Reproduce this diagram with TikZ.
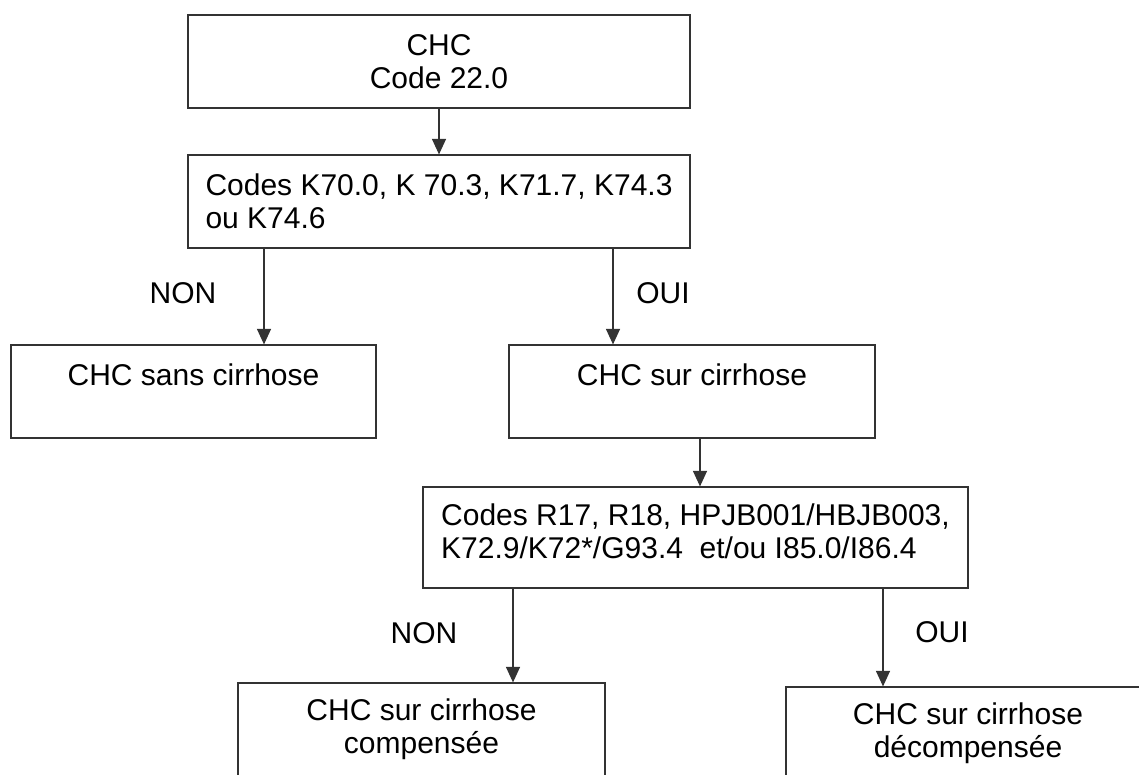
\documentclass[tikz,border=0pt]{standalone}
\usepackage{fontspec}
\setmainfont{Liberation Sans}
\usetikzlibrary{arrows.meta}
\begin{document}
\begin{tikzpicture}[x=1pt,y=-1pt,
  box/.style={draw=black!80, line width=1.2pt, inner sep=0pt, align=center, font=\fontsize{30}{33}\selectfont},
  lbl/.style={font=\fontsize{30}{33}\selectfont, inner sep=0pt},
  arr/.style={draw=black!80, line width=1.2pt, -{Triangle[length=15.5pt,width=14pt]}}]
\useasboundingbox (0,0) rectangle (1139,774);
\clip (0,0) rectangle (1139,774);
\fill[white] (0,0) rectangle (1139,774);
\node[box, minimum width=502pt, minimum height=93pt] (n1) at (439,61.5) {CHC\\Code 22.0};
\node[box, align=left, minimum width=502pt, minimum height=93pt] (n2) at (439,201.5) {Codes K70.0, K 70.3, K71.7, K74.3\\ou K74.6};
\node[box, minimum width=365pt, minimum height=93pt] (sans) at (193.5,391.5) {CHC sans cirrhose\\\mbox{}};
\node[box, minimum width=366pt, minimum height=93pt] (sur) at (692,391.5) {CHC sur cirrhose\\\mbox{}};
\node[box, align=left, minimum width=545pt, minimum height=101pt] (n4) at (695.5,537.5) {Codes R17, R18, HPJB001/HBJB003,\\K72.9/K72*/G93.4\ \ et/ou I85.0/I86.4\\[-21pt]\mbox{}};
\node[box, minimum width=367pt, minimum height=93pt] (comp) at (421.5,729.5) {CHC sur cirrhose\\compensée};
\node[box, minimum width=364pt, minimum height=93pt] (decomp) at (968,733.5) {CHC sur cirrhose\\décompensée};
\coordinate (c1) at (264,0);
\coordinate (c2) at (613,0);
\coordinate (c3) at (700,0);
\coordinate (c4) at (513,0);
\coordinate (c5) at (883,0);
\draw[arr] (n1.south) -- (n2.north);
\draw[arr] (n2.south -| c1) -- (sans.north -| c1);
\draw[arr] (n2.south -| c2) -- (sur.north -| c2);
\draw[arr] (sur.south -| c3) -- (n4.north -| c3);
\draw[arr] (n4.south -| c4) -- (comp.north -| c4);
\draw[arr] (n4.south -| c5) -- (decomp.north -| c5);
\node[lbl] (non1) at (183,293) {NON};
\node[lbl] (oui1) at (663,293) {OUI};
\node[lbl] (non2) at (424,633) {NON};
\node[lbl] (oui2) at (942,632) {OUI};
\end{tikzpicture}
\end{document}
